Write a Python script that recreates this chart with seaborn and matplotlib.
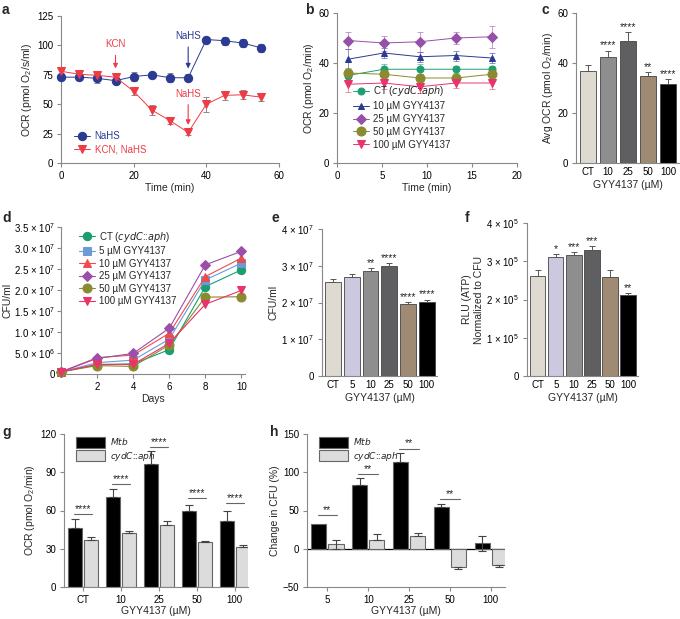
import matplotlib
matplotlib.use("Agg")
import matplotlib.pyplot as plt
import numpy as np
import pandas as pd
import seaborn as sns

sns.set_style("ticks")
plt.rcParams["font.family"] = ["Liberation Sans", "DejaVu Sans"]
plt.rcParams["mathtext.default"] = "regular"
plt.rcParams["font.size"] = 7
plt.rcParams["axes.edgecolor"] = "#888888"
plt.rcParams["axes.linewidth"] = 0.8
plt.rcParams["axes.labelpad"] = 2
plt.rcParams["xtick.color"] = "#888888"
plt.rcParams["ytick.color"] = "#888888"
plt.rcParams["xtick.labelcolor"] = "black"
plt.rcParams["ytick.labelcolor"] = "black"
plt.rcParams["xtick.labelsize"] = 7
plt.rcParams["ytick.labelsize"] = 7
plt.rcParams["xtick.major.size"] = 3
plt.rcParams["ytick.major.size"] = 3
plt.rcParams["xtick.major.pad"] = 2.5
plt.rcParams["ytick.major.pad"] = 2.5

# ---- panel a: OCR with KCN / NaHS
time_a = [0, 5, 10, 15, 20, 25, 30, 35, 40, 45, 50, 55]
nahs = [73, 73, 72, 70, 73.5, 75, 72.5, 72.5, 105, 104, 102, 98]
nahs_err = [2, 2, 4, 3, 3.5, 1, 4, 3, 2.5, 3.5, 3.5, 3.5]
kcn_nahs = [78, 75.5, 74.5, 73, 61, 45, 36, 26, 50, 57.5, 58, 56]
kcn_err = [1.5, 1.5, 2, 2, 3, 4, 2.5, 2, 6.5, 4, 4, 3]

# ---- panel b: OCR of cydC::aph with GYY4137
time_b = [1.2, 5.2, 9.2, 13.2, 17.2]
b_labels = ["CT ($\\it{cydC}$::$\\it{aph}$)", "10 µM GYY4137", "25 µM GYY4137",
            "50 µM GYY4137", "100 µM GYY4137"]
ocr_b = [
    [35, 37.5, 37.5, 37.5, 37.5],
    [41.5, 44, 42.5, 43, 42],
    [49, 48, 48.5, 50, 50.5],
    [36, 35.5, 34, 34, 35.5],
    [31.5, 32, 30.5, 32, 32],
]
ocr_b_err = [
    [2, 2, 2, 1.5, 1.5],
    [4, 2, 2, 2, 2],
    [3.5, 3, 4, 2.5, 4.5],
    [2, 2, 1.5, 1.5, 1.5],
    [3, 2.5, 2.5, 2, 2.5],
]

# ---- panel c: average OCR
conc_c = ["CT", "10", "25", "50", "100"]
avg_ocr = [37, 42.5, 49, 35, 31.5]
avg_ocr_err = [2.2, 2.5, 3.5, 1.5, 2.2]
stars_c = ["", "****", "****", "**", "****"]

# ---- panel d: growth curves
days = [0, 2, 4, 6, 8, 10]
d_labels = ["CT ($\\it{cydC}$::$\\it{aph}$)", "5 µM GYY4137", "10 µM GYY4137",
            "25 µM GYY4137", "50 µM GYY4137", "100 µM GYY4137"]
cfu_d = [
    [0.5e6, 2.2e6, 2.4e6, 5.8e6, 2.08e7, 2.48e7],
    [0.5e6, 2.7e6, 3.3e6, 8.3e6, 2.24e7, 2.64e7],
    [0.5e6, 3.9e6, 4.5e6, 9.7e6, 2.32e7, 2.76e7],
    [0.5e6, 3.7e6, 4.9e6, 1.09e7, 2.6e7, 2.92e7],
    [0.5e6, 2.0e6, 1.8e6, 6.9e6, 1.83e7, 1.84e7],
    [0.5e6, 2.3e6, 2.3e6, 7.3e6, 1.66e7, 1.99e7],
]
d_yticklabels = ["0", "5.0 × 10$^6$", "1.0 × 10$^7$", "1.5 × 10$^7$", "2.0 × 10$^7$",
                 "2.5 × 10$^7$", "3.0 × 10$^7$", "3.5 × 10$^7$"]

# ---- panel e: CFU at endpoint
conc_ef = ["CT", "5", "10", "25", "50", "100"]
cfu_e = [2.55e7, 2.7e7, 2.85e7, 3.0e7, 1.95e7, 2.02e7]
cfu_e_err = [0.1e7, 0.07e7, 0.08e7, 0.07e7, 0.07e7, 0.06e7]
stars_e = ["", "", "**", "****", "****", "****"]
e_yticklabels = ["0", "1 × 10$^7$", "2 × 10$^7$", "3 × 10$^7$", "4 × 10$^7$"]

# ---- panel f: ATP
rlu = [2.62e5, 3.1e5, 3.17e5, 3.3e5, 2.6e5, 2.12e5]
rlu_err = [0.15e5, 0.1e5, 0.08e5, 0.1e5, 0.18e5, 0.05e5]
stars_f = ["", "*", "***", "***", "", "**"]
f_yticklabels = ["0", "1 × 10$^5$", "2 × 10$^5$", "3 × 10$^5$", "4 × 10$^5$"]

# ---- panel g: OCR Mtb vs cydC::aph
conc_g = ["CT", "10", "25", "50", "100"]
ocr_mtb = [46, 70.5, 96.5, 60, 51.5]
ocr_mtb_err = [7, 6, 10, 4.5, 8.5]
ocr_cyd = [37, 42.5, 49, 35, 31.5]
ocr_cyd_err = [2, 1.5, 3, 0.7, 1.8]
sig_g = [57, 81, 110, 70, 66]

# ---- panel h: change in CFU
conc_h = ["5", "10", "25", "50", "100"]
chg_mtb = [32, 83, 114, 55, 7]
chg_mtb_err = [0, 9, 11, 4, 10]
chg_cyd = [6, 12, 17, -24, -21]
chg_cyd_err = [6, 7, 3, 3, 3]
sig_h = [44, 98, 131, 65]

strain_labels = ["$\\it{Mtb}$", "$\\it{cydC}$::$\\it{aph}$"]

BLUE = "#2B3A92"
RED = "#EE3B46"
colors_b = ["#1E9E72", "#2B3A92", "#9650A8", "#8A8A2E", "#E8336B"]
markers_b = ["o", "^", "D", "o", "v"]
msize_b = [5, 5, 5, 6.5, 5.5]
colors_d = ["#1A9E6E", "#6A9BD8", "#F04B4B", "#9B4FA8", "#8A8A2E", "#E8336B"]
markers_d = ["o", "s", "^", "D", "o", "v"]
msize_d = [6, 6, 5.5, 5, 6.5, 5.5]
bar_colors = {"CT": "#E0DBCF", "5": "#C8C4E4", "10": "#8E8E8E", "25": "#5E5E62",
              "50": "#A68B6D", "100": "#000000"}

fig = plt.figure(figsize=(6.8, 6.19), dpi=100)
W, H = 680, 619


def place(left, right, top, bottom):
    return fig.add_axes([left / W, 1 - bottom / H, (right - left) / W, (bottom - top) / H])


def simple_bars(ax, conc, vals, errs, stars, star_pad):
    sns.barplot(x=conc, y=vals, hue=conc, palette=[bar_colors[c] for c in conc],
                legend=False, width=0.84, edgecolor="#444444", linewidth=0.6, ax=ax)
    xs = np.arange(len(conc))
    ax.errorbar(xs, vals, yerr=[np.zeros(len(errs)), errs], fmt="none",
                ecolor="#555555", elinewidth=0.7, capsize=2.5, capthick=0.7)
    for x, v, e, s in zip(xs, vals, errs, stars):
        if s:
            ax.text(x, v + e + star_pad, s, ha="center", va="bottom", fontsize=7.5,
                    linespacing=0.8)
    ax.set_xlim(-0.6, len(conc) - 0.45)
    ax.set_xlabel("GYY4137 (µM)", fontsize=7.5)
    ax.tick_params(axis="x", length=0, pad=3)
    sns.despine(ax=ax)


# ---------------- a
ax = place(61, 279, 16, 163)
for vals, errs, col, mk, lab in [(nahs, nahs_err, BLUE, "o", "NaHS"),
                                 (kcn_nahs, kcn_err, RED, "v", "KCN, NaHS")]:
    ax.errorbar(time_a, vals, yerr=errs, fmt="none", ecolor="#8a8a8a",
                elinewidth=0.7, capsize=2, capthick=0.7, zorder=1)
    sns.lineplot(x=time_a, y=vals, ax=ax, color=col, marker=mk, markersize=6,
                 markeredgecolor=col, linewidth=0.7, label=lab, clip_on=False, zorder=3)
ax.annotate("KCN", xy=(15, 78), xytext=(15, 101), color=RED, ha="center", va="center",
            fontsize=7, arrowprops=dict(arrowstyle="-|>", color=RED, lw=0.8, mutation_scale=7))
ax.annotate("NaHS", xy=(35, 78), xytext=(35, 108), color=BLUE, ha="center", va="center",
            fontsize=7, arrowprops=dict(arrowstyle="-|>", color=BLUE, lw=0.8, mutation_scale=7))
ax.annotate("NaHS", xy=(35, 30), xytext=(35, 59), color=RED, ha="center", va="center",
            fontsize=7, arrowprops=dict(arrowstyle="-|>", color=RED, lw=0.8, mutation_scale=7))
ax.set_xlim(0, 60)
ax.set_ylim(0, 125)
ax.set_xticks([0, 20, 40, 60])
ax.set_yticks([0, 25, 50, 75, 100, 125])
ax.set_xlabel("Time (min)", fontsize=7.5)
ax.set_ylabel("OCR (pmol O$_2$/s/ml)", fontsize=7.5)
leg = ax.legend(loc="lower left", bbox_to_anchor=(0.02, 0.0), frameon=False, fontsize=7,
                handlelength=1.6, handletextpad=0.5, labelspacing=0.3)
for t, c in zip(leg.get_texts(), [BLUE, RED]):
    t.set_color(c)
sns.despine(ax=ax)

# ---------------- b
ax = place(337, 517, 13, 163)
for vals, errs, col, mk, ms, lab in zip(ocr_b, ocr_b_err, colors_b, markers_b, msize_b, b_labels):
    ax.errorbar(time_b, vals, yerr=errs, fmt="none", ecolor=col, alpha=0.55,
                elinewidth=0.7, capsize=2, capthick=0.7, zorder=1)
    sns.lineplot(x=time_b, y=vals, ax=ax, color=col, marker=mk, markersize=ms,
                 markeredgecolor=col, linewidth=0.7, label=lab, zorder=3)
ax.set_xlim(0, 20)
ax.set_ylim(0, 60)
ax.set_xticks([0, 5, 10, 15, 20])
ax.set_yticks([0, 20, 40, 60])
ax.set_xlabel("Time (min)", fontsize=7.5)
ax.set_ylabel("OCR (pmol O$_2$/min)", fontsize=7.5)
ax.legend(loc="lower left", bbox_to_anchor=(0.04, 0.03), frameon=False, fontsize=7,
          handlelength=1.6, handletextpad=0.5, labelspacing=0.3)
sns.despine(ax=ax)

# ---------------- c
ax = place(576, 679, 13, 163)
simple_bars(ax, conc_c, avg_ocr, avg_ocr_err, stars_c, 0.0)
ax.set_ylim(0, 60)
ax.set_yticks([0, 20, 40, 60])
ax.set_ylabel("Avg OCR (pmol O$_2$/min)", fontsize=7.5)

# ---------------- d
ax = place(61, 245, 227, 374)
for vals, col, mk, ms, lab in zip(cfu_d, colors_d, markers_d, msize_d, d_labels):
    sns.lineplot(x=days, y=vals, ax=ax, color=col, marker=mk, markersize=ms,
                 markeredgecolor=col, linewidth=0.8, label=lab, clip_on=False, zorder=3)
ax.set_xlim(0, 10.2)
ax.set_ylim(0, 3.5e7)
ax.set_xticks([2, 4, 6, 8, 10])
ax.set_yticks(np.arange(len(d_yticklabels)) * 5e6)
ax.set_yticklabels(d_yticklabels, fontsize=7)
ax.tick_params(axis="y", pad=1.5)
ax.set_xlabel("Days", fontsize=7.5)
ax.set_ylabel("CFU/ml", fontsize=7.5, labelpad=0.5)
ax.legend(loc="upper left", bbox_to_anchor=(0.05, 1.04), frameon=False, fontsize=7,
          handlelength=1.6, handletextpad=0.5, labelspacing=0.25)
sns.despine(ax=ax)

# ---------------- e
ax = place(322, 437, 229, 376)
simple_bars(ax, conc_ef, cfu_e, cfu_e_err, stars_e, 0.0)
ax.set_ylim(0, 4e7)
ax.set_yticks(np.arange(len(e_yticklabels)) * 1e7)
ax.set_yticklabels(e_yticklabels)
ax.set_ylabel("CFU/ml", fontsize=7.5)

# ---------------- f
ax = place(527, 638, 223, 376)
simple_bars(ax, conc_ef, rlu, rlu_err, stars_f, 0.0)
ax.set_ylim(0, 4e5)
ax.set_yticks(np.arange(len(f_yticklabels)) * 1e5)
ax.set_yticklabels(f_yticklabels)
ax.set_ylabel("RLU (ATP)\nNormalized to CFU", fontsize=7.5)


# ---------------- g, h
def grouped(ax, conc, mtb, mtb_err, cyd, cyd_err, sig, stars):
    df = pd.DataFrame({
        "conc": conc * 2,
        "val": mtb + cyd,
        "strain": [strain_labels[0]] * len(conc) + [strain_labels[1]] * len(conc),
    })
    sns.barplot(data=df, x="conc", y="val", hue="strain",
                palette=["#000000", "#DCDCDC"], width=0.84, gap=0.12,
                edgecolor="#666666", linewidth=0.8, ax=ax)
    for cont, vals, errs in zip(ax.containers, [mtb, cyd], [mtb_err, cyd_err]):
        for p, v, e in zip(cont, vals, errs):
            if e == 0:
                continue
            xc = p.get_x() + p.get_width() / 2
            if v >= 0 and abs(v) > e:
                yerr = [[0], [e]]
            elif v < 0:
                yerr = [[e], [0]]
            else:
                yerr = [[e], [e]]
            ax.errorbar([xc], [v], yerr=yerr, fmt="none", ecolor="#444444",
                        elinewidth=0.8, capsize=3, capthick=0.8)
    for i, y in enumerate(sig):
        ax.plot([i - 0.24, i + 0.24], [y, y], color="#666666", lw=0.8)
        ax.text(i, y, stars, ha="center", va="bottom", fontsize=7.5)
    ax.set_xlim(-0.5, len(conc) - 0.65)
    ax.set_xlabel("GYY4137 (µM)", fontsize=7.5, labelpad=1)
    ax.legend(loc="upper left", bbox_to_anchor=(0.02, 1.04), frameon=False, fontsize=6.5,
              handlelength=3.2, handleheight=1.5, handletextpad=0.6, labelspacing=0.25)
    sns.despine(ax=ax)


ax = place(64, 248, 434, 587)
grouped(ax, conc_g, ocr_mtb, ocr_mtb_err, ocr_cyd, ocr_cyd_err, sig_g, "****")
ax.set_ylim(0, 120)
ax.set_yticks([0, 30, 60, 90, 120])
ax.set_ylabel("OCR (pmol O$_2$/min)", fontsize=7.5)

ax = place(307, 505, 434, 587)
grouped(ax, conc_h, chg_mtb, chg_mtb_err, chg_cyd, chg_cyd_err, sig_h, "**")
ax.axhline(0, color="black", lw=0.9, zorder=0.5)
ax.set_ylim(-50, 150)
ax.set_yticks([-50, 0, 50, 100, 150])
ax.set_ylabel("Change in CFU (%)", fontsize=7.5)

# panel letters
for lab, x, y in [("a", 2, 10), ("b", 305, 10), ("c", 541, 10), ("d", 2, 218),
                  ("e", 272, 218), ("f", 465, 218), ("g", 2, 432), ("h", 270, 432)]:
    fig.text(x / W, 1 - y / H, lab, fontsize=10, fontweight="bold", va="center")

fig.savefig("out.png", dpi=100)
